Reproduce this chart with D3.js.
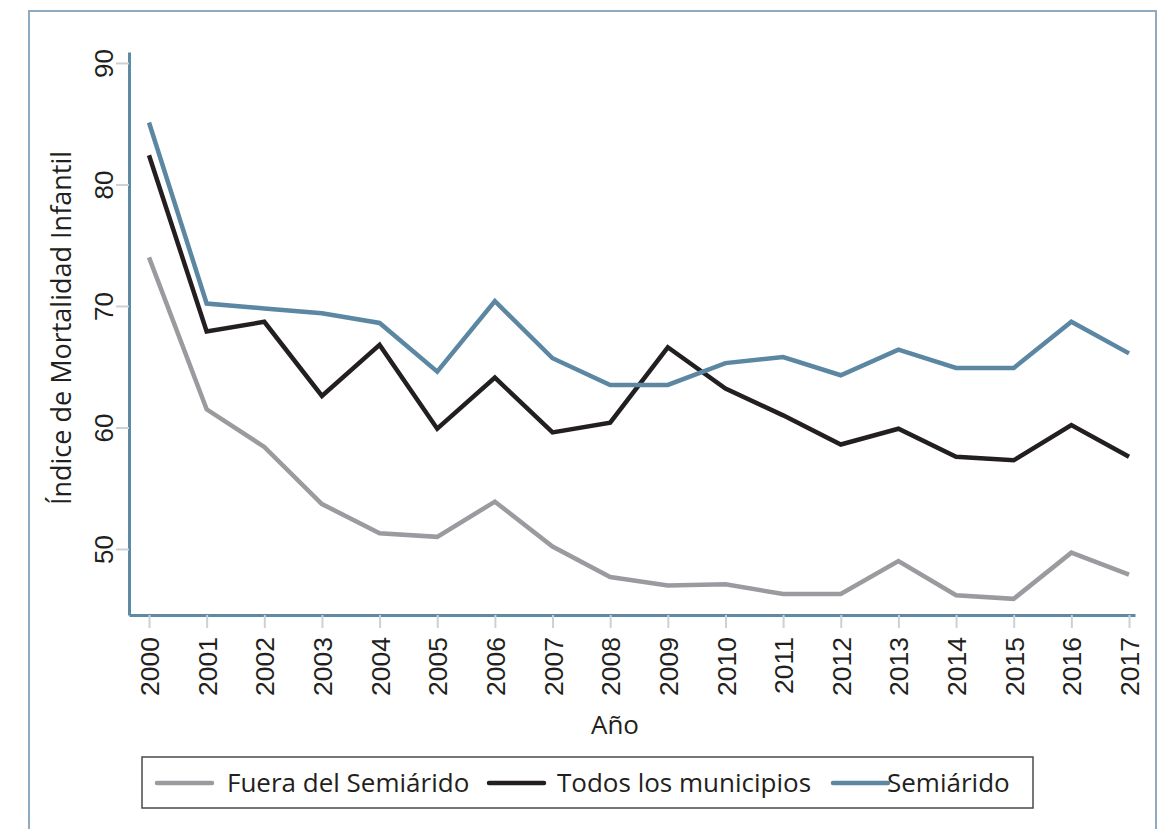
<!DOCTYPE html>
<html>
<head>
<meta charset="utf-8">
<script src="https://cdn.jsdelivr.net/npm/d3@7"></script>
<style>
  body { margin: 0; background: #fff; }
  svg { display: block; }
</style>
</head>
<body>
<div id="chart"></div>
<script>
// data
const years = [2000, 2001, 2002, 2003, 2004, 2005, 2006, 2007, 2008, 2009, 2010, 2011, 2012, 2013, 2014, 2015, 2016, 2017];
const fueraSemiarido = [74.0, 61.5, 58.4, 53.7, 51.3, 51.0, 53.9, 50.2, 47.7, 47.0, 47.1, 46.3, 46.3, 49.0, 46.2, 45.9, 49.7, 47.9];
const todosMunicipios = [82.4, 67.9, 68.7, 62.6, 66.8, 59.9, 64.1, 59.6, 60.4, 66.6, 63.2, 61.0, 58.6, 59.9, 57.6, 57.3, 60.2, 57.6];
const semiarido = [85.1, 70.2, 69.8, 69.4, 68.6, 64.6, 70.4, 65.7, 63.5, 63.5, 65.3, 65.8, 64.3, 66.4, 64.9, 64.9, 68.7, 66.1];
const yTicks = [50, 60, 70, 80, 90];
const seriesNames = ["Fuera del Semiárido", "Todos los municipios", "Semiárido"];
const seriesColors = ["#9a9b9f", "#231f20", "#5b87a2"];

const width = 1164, height = 829;
const axisColor = "#5f8aa6";

const svg = d3.select("#chart").append("svg")
    .attr("width", width)
    .attr("height", height);

// outer frame
svg.append("path")
    .attr("d", "M29,829 V11 H1156 V829")
    .attr("fill", "none")
    .attr("stroke", "#8fabc2")
    .attr("stroke-width", 2);

// Scales
const x = d3.scaleLinear().domain([1999.653, 2017.104]).range([129, 1135]);
const y = d3.scaleLinear().domain([44.57, 90.9]).range([615, 52]);

// X-Axis
const gx = svg.append("g")
    .attr("transform", "translate(0,615)")
    .call(d3.axisBottom(x).tickValues(years).tickFormat(d3.format("d")).tickSize(13).tickSizeOuter(0));
gx.select(".domain").attr("stroke", axisColor).attr("stroke-width", 3);
gx.selectAll(".tick line").attr("stroke", "#cfd0d2").attr("stroke-width", 2);
gx.selectAll(".tick text")
    .attr("transform", "rotate(-90)")
    .attr("x", -22)
    .attr("y", 0)
    .attr("dy", "0.36em")
    .attr("text-anchor", "end")
    .attr("fill", "#231f20")
    .style("font-family", "'Liberation Sans', Arial, sans-serif")
    .style("font-size", "26.5px");

// Y-Axis
const gy = svg.append("g")
    .attr("transform", "translate(129,0)")
    .call(d3.axisLeft(y).tickValues(yTicks).tickSize(13).tickSizeOuter(0));
gy.select(".domain").attr("stroke", axisColor).attr("stroke-width", 3);
gy.selectAll(".tick line").attr("stroke", "#cfd0d2").attr("stroke-width", 2);
gy.selectAll(".tick text")
    .attr("transform", "rotate(-90)")
    .attr("x", 0)
    .attr("y", -16)
    .attr("dy", 0)
    .attr("text-anchor", "middle")
    .attr("fill", "#231f20")
    .style("font-family", "'Liberation Sans', Arial, sans-serif")
    .style("font-size", "26px");

// axis titles
svg.append("text")
    .attr("transform", "translate(71,328) rotate(-90)")
    .attr("text-anchor", "middle")
    .attr("fill", "#231f20")
    .style("font-family", "'Open Sans', sans-serif")
    .style("font-size", "27px")
    .text("Índice de Mortalidad Infantil");

svg.append("text")
    .attr("x", 615)
    .attr("y", 734)
    .attr("text-anchor", "middle")
    .attr("fill", "#231f20")
    .style("font-family", "'Open Sans', sans-serif")
    .style("font-size", "26px")
    .text("Año");

// lines
const line = d3.line()
    .x((d, i) => x(years[i]))
    .y(d => y(d));

[fueraSemiarido, todosMunicipios, semiarido].forEach((vals, k) => {
    svg.append("path")
        .datum(vals)
        .attr("fill", "none")
        .attr("stroke", seriesColors[k])
        .attr("stroke-width", 4.5)
        .attr("stroke-linejoin", "miter")
        .attr("d", line);
});

// legend
const legend = svg.append("g");
legend.append("rect")
    .attr("x", 142).attr("y", 757)
    .attr("width", 891).attr("height", 51)
    .attr("fill", "#fff")
    .attr("stroke", "#4a4a4a")
    .attr("stroke-width", 1.5);

const legendItems = [
    { lx: 157, tx: 227 },
    { lx: 489, tx: 557 },
    { lx: 833, tx: 887 }
];
legendItems.forEach((it, k) => {
    legend.append("line")
        .attr("x1", it.lx).attr("x2", it.lx + 55)
        .attr("y1", 783).attr("y2", 783)
        .attr("stroke", seriesColors[k])
        .attr("stroke-width", 4.5)
        .attr("stroke-linecap", "round");
    legend.append("text")
        .attr("x", it.tx)
        .attr("y", 792)
        .attr("fill", "#231f20")
        .style("font-family", "'Open Sans', sans-serif")
        .style("font-size", "26px")
        .text(seriesNames[k]);
});
</script>
</body>
</html>
